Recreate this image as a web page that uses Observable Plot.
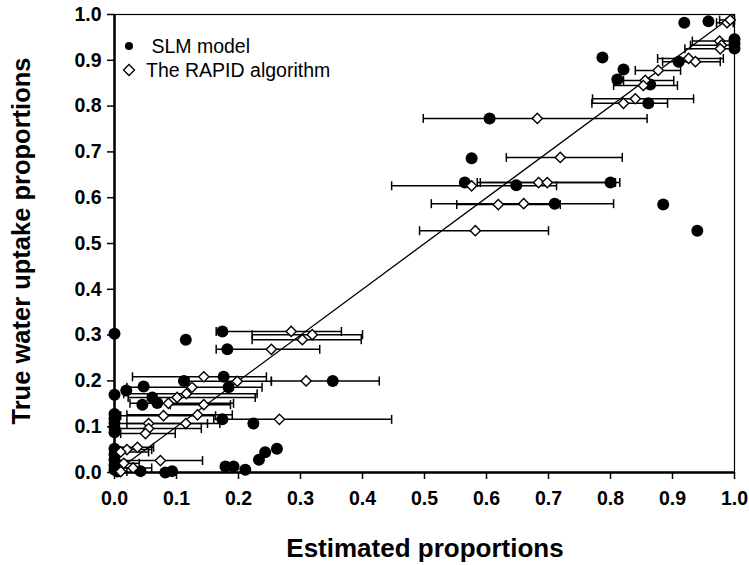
<!DOCTYPE html>
<html><head><meta charset="utf-8">
<script src="https://cdn.jsdelivr.net/npm/d3@7"></script>
<script src="https://cdn.jsdelivr.net/npm/@observablehq/plot@0.6"></script>
<style>
body{margin:0;background:#fff;}
#chart{position:relative;width:749px;height:565px;font-family:"Liberation Sans",Arial,sans-serif;}
#legend{position:absolute;left:120px;top:34px;font-size:19.5px;color:#000;line-height:24px;}
#legend div{display:flex;align-items:center;}
#legend svg{margin-right:8px;}
#ytitle{position:absolute;left:21px;top:241px;transform:translate(-50%,-50%) rotate(-90deg);white-space:nowrap;font-weight:bold;font-size:25.5px;}
#xtitle{position:absolute;left:425px;top:548px;transform:translate(-50%,-50%);white-space:nowrap;font-weight:bold;font-size:26px;}
</style></head><body><div id="chart"></div>
<script>
const xTitle = "Estimated proportions";
const yTitle = "True water uptake proportions";
const seriesNames = ["SLM model", "The RAPID algorithm"];
const tickValues = [0,0.1,0.2,0.3,0.4,0.5,0.6,0.7,0.8,0.9,1.0];
const oneToOne = [0, 1];

const slmX = [0.919,0.958,1.0,1.0,1.0,0.787,0.910,0.821,0.811,0.864,0.861,0.605,0.576,0.565,0.648,0.800,0.710,0.885,0.940,
  0,0.115,0.174,0.182,0.176,0.112,0.352,0.184,0.019,0.047,0,0.061,0.069,0.045,0.174,0.224,
  0,0,0,0,0,0,0,0,0,0,0.005,0.042,0.082,0.093,0.179,0.192,0.211,0.233,0.243,0.262];
const slmY = [0.982,0.985,0.946,0.936,0.926,0.906,0.897,0.880,0.858,0.847,0.806,0.773,0.686,0.633,0.627,0.633,0.587,0.585,0.528,
  0.303,0.290,0.308,0.269,0.209,0.200,0.200,0.186,0.179,0.188,0.170,0.164,0.152,0.148,0.116,0.107,
  0.128,0.118,0.108,0.098,0.088,0.052,0.040,0.028,0.016,0.006,0.002,0.003,0.0,0.003,0.013,0.013,0.006,0.028,0.044,0.052];

const rapidX  = [0.988,0.993,0.976,0.979,0.977,0.926,0.937,0.877,0.856,0.853,0.840,0.821,0.682,0.719,0.576,0.684,0.698,0.619,0.660,0.582,
  0.285,0.319,0.303,0.253,0.144,0.198,0.309,0.125,0.116,0.101,0.087,0.144,0.266,0.079,0.134,0.115,0.055,0.055,0.050,0.037,0.020,0.010,0.074,0.015,0.030,0.010];
const rapidY  = [0.982,0.988,0.942,0.933,0.925,0.904,0.897,0.878,0.856,0.845,0.816,0.806,0.773,0.688,0.626,0.633,0.633,0.585,0.587,0.528,
  0.308,0.301,0.290,0.269,0.209,0.199,0.200,0.186,0.172,0.164,0.151,0.148,0.116,0.124,0.126,0.107,0.107,0.096,0.085,0.055,0.050,0.045,0.026,0.020,0.010,0.002];
const rapidLo = [0.971,0.976,0.932,0.929,0.920,0.876,0.884,0.840,0.821,0.805,0.771,0.770,0.498,0.632,0.447,0.585,0.590,0.552,0.511,0.492,
  0.164,0.222,0.222,0.164,0.029,0.120,0.253,0.020,0.015,0.022,0.025,0.090,0.160,0.010,0.020,0.020,0.005,0.005,0.010,0.000,0.000,0.000,0.005,0.000,0.000,0.000];
const rapidHi = [0.998,1.000,1.000,1.000,1.000,0.982,0.977,0.913,0.902,0.908,0.934,0.892,0.859,0.819,0.713,0.808,0.815,0.719,0.805,0.700,
  0.366,0.400,0.398,0.331,0.245,0.253,0.427,0.238,0.230,0.227,0.192,0.187,0.447,0.163,0.190,0.170,0.150,0.140,0.098,0.063,0.060,0.055,0.142,0.040,0.060,0.020];

const slm = slmX.map((x, i) => ({x, y: slmY[i]}));
const rapid = rapidX.map((x, i) => ({x, y: rapidY[i], lo: rapidLo[i], hi: rapidHi[i]}));

const vbar = {draw(ctx, size) { const h = Math.sqrt(size / Math.PI); ctx.moveTo(0, -h); ctx.lineTo(0, h); }};
const fmt = d3.format(".1f");

const plot = Plot.plot({
  width: 749, height: 565,
  marginLeft: 114, marginRight: 15, marginTop: 14, marginBottom: 93,
  style: {fontFamily: '"Liberation Sans", Arial, sans-serif', background: "white", color: "black"},
  x: {domain: [0, 1], label: null},
  y: {domain: [0, 1], label: null},
  marks: [
    Plot.axisX({ticks: tickValues, tickFormat: fmt, tickSize: 7, tickPadding: 12, fontSize: 19.5, fontWeight: "bold", strokeWidth: 1.5, label: null}),
    Plot.axisY({ticks: tickValues, tickFormat: fmt, tickSize: 7, tickPadding: 6, fontSize: 19.5, fontWeight: "bold", strokeWidth: 1.5, label: null}),
    Plot.frame({stroke: "black", strokeWidth: 1.2}),
    Plot.ruleX([0], {stroke: "black", strokeWidth: 2.5}),
    Plot.ruleY([0], {stroke: "black", strokeWidth: 2.5}),
    Plot.line(oneToOne, {x: d => d, y: d => d, stroke: "black", strokeWidth: 1.3}),
    Plot.link(rapid, {x1: "lo", x2: "hi", y1: "y", y2: "y", stroke: "black", strokeWidth: 1.5}),
    Plot.dot(rapid, {x: "lo", y: "y", symbol: vbar, r: 4.5, stroke: "black", strokeWidth: 1.5}),
    Plot.dot(rapid, {x: "hi", y: "y", symbol: vbar, r: 4.5, stroke: "black", strokeWidth: 1.5}),
    Plot.dot(slm, {x: "x", y: "y", r: 6, fill: "black", stroke: "none"}),
    Plot.dot(rapid, {x: "x", y: "y", symbol: "diamond2", r: 4.6, fill: "white", stroke: "black", strokeWidth: 1.4})
  ]
});

const chart = document.getElementById("chart");
chart.appendChild(plot);

const legend = document.createElement("div");
legend.id = "legend";
legend.innerHTML =
  `<div><svg width="18" height="18"><circle cx="9" cy="9" r="4" fill="black"/></svg><span>\u00a0${seriesNames[0]}</span></div>` +
  `<div><svg width="18" height="18"><path d="M9,3.5L14.5,9L9,14.5L3.5,9Z" fill="white" stroke="black" stroke-width="1.3"/></svg><span>${seriesNames[1]}</span></div>`;
chart.appendChild(legend);

const yt = document.createElement("div"); yt.id = "ytitle"; yt.textContent = yTitle; chart.appendChild(yt);
const xt = document.createElement("div"); xt.id = "xtitle"; xt.textContent = xTitle; chart.appendChild(xt);
plot.style.position = "absolute"; plot.style.left = "0"; plot.style.top = "0";
</script>
</body></html>
